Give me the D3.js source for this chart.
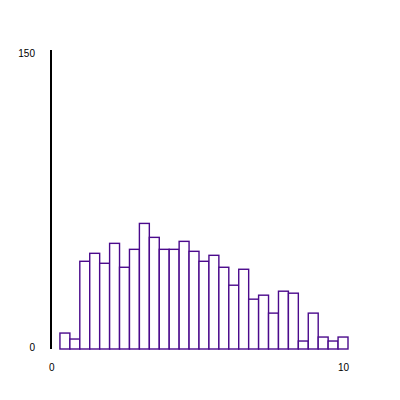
<!DOCTYPE html>
<html>
<head>
<meta charset="utf-8">
<script src="https://cdn.jsdelivr.net/npm/d3@7"></script>
<style>
  body { margin: 0; background: #fff; }
  text { font-family: "Liberation Sans", Arial, sans-serif; font-size: 10px; fill: #000; }
</style>
</head>
<body>
<svg id="hist"></svg>
<script>
// histogram counts, 30 bins of width 1/3 over [0, 10]
const counts = [0, 8, 5, 44, 48, 43, 53, 41, 50, 63, 56, 50, 50, 54, 49,
                44, 47, 41, 32, 40, 25, 27, 18, 29, 28, 4, 18, 6, 4, 6];
const xDomain = [0, 10];
const yDomain = [0, 150];
const xTickLabels = ["0", "10"];
const yTickLabels = ["0", "150"];

const width = 400, height = 400;
const margins = { top: 50, right: 52, bottom: 51, left: 50 };

const svg = d3.select('#hist')
    .attr("width", width)
    .attr("height", height);

const x = d3.scaleLinear()
    .domain(xDomain)
    .range([margins.left, width - margins.right]);

const y = d3.scaleLinear()
    .domain(yDomain)
    .range([height - margins.bottom, margins.top]);

// labels sit a little inside the axis ends
const yLabel = d3.scaleLinear()
    .domain(yDomain)
    .range([351, 57]);

const binWidth = (xDomain[1] - xDomain[0]) / counts.length;
const bins = counts.map((c, i) => ({
    x0: xDomain[0] + i * binWidth,
    x1: xDomain[0] + (i + 1) * binWidth,
    count: c
}));

// bars
svg.append("g")
    .selectAll("rect")
    .data(bins)
    .join("rect")
    .attr("x", d => x(d.x0))
    .attr("width", d => x(d.x1) - x(d.x0))
    .attr("y", d => y(d.count))
    .attr("height", d => y(0) - y(d.count))
    .attr("fill", "white")
    .attr("stroke", "#4b0a8c")
    .attr("stroke-width", 1.4);

// y axis line
svg.append("line")
    .attr("x1", x(0) + 1).attr("x2", x(0) + 1)
    .attr("y1", y(yDomain[1])).attr("y2", y(0))
    .attr("stroke", "black")
    .attr("stroke-width", 2);

// y labels
svg.append("g")
    .selectAll("text")
    .data(yTickLabels)
    .join("text")
    .attr("x", 35)
    .attr("y", d => yLabel(+d))
    .attr("text-anchor", "end")
    .text(d => d);

// x labels
svg.append("g")
    .selectAll("text")
    .data(xTickLabels)
    .join("text")
    .attr("x", (d, i) => i === 0 ? x(+d) - 1 : x(+d) + 1)
    .attr("y", 371)
    .attr("text-anchor", (d, i) => i === 0 ? "start" : "end")
    .text(d => d);
</script>
</body>
</html>
